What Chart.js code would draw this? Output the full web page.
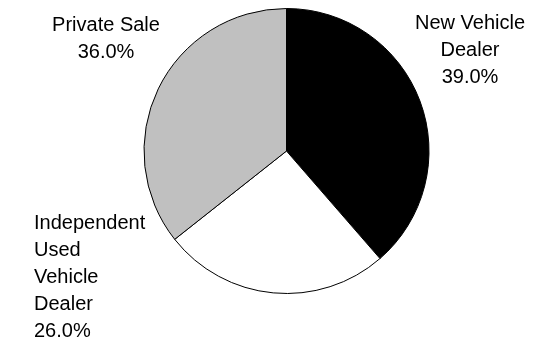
<!DOCTYPE html>
<html>
<head>
<meta charset="utf-8">
<script src="https://cdn.jsdelivr.net/npm/chart.js@4/dist/chart.umd.min.js"></script>
<style>
  html, body { margin: 0; padding: 0; background: #ffffff; }
  #wrap { width: 546px; height: 339px; position: relative; }
</style>
</head>
<body>
<div id="wrap"><canvas id="pieChart"></canvas></div>
<script>
// Chart data
const categories = [
  ["New Vehicle", "Dealer"],
  ["Independent", "Used", "Vehicle", "Dealer"],
  ["Private Sale"],
];
const shares = [39.0, 26.0, 36.0];
const sliceColors = ["#000000", "#ffffff", "#c0c0c0"];

// Label placement, relative to pie centre (px)
const labelSpots = [
  { dx: 183.5, dy: -122.5, align: "center" },
  { dx: -252.5, dy: 77.5, align: "left" },
  { dx: -180.5, dy: -120, align: "center" },
];

const pieLabels = {
  id: "pieLabels",
  afterDatasetsDraw(chart) {
    const ctx = chart.ctx;
    const meta = chart.getDatasetMeta(0);
    ctx.save();
    ctx.font = "20px 'Liberation Sans', Arial, sans-serif";
    ctx.fillStyle = "#000000";
    ctx.textBaseline = "alphabetic";
    meta.data.forEach((arc, i) => {
      const spot = labelSpots[i];
      const lines = categories[i].concat([shares[i].toFixed(1) + "%"]);
      ctx.textAlign = spot.align;
      lines.forEach((line, j) => {
        ctx.fillText(line, arc.x + spot.dx, arc.y + spot.dy + j * 27);
      });
    });
    ctx.restore();
  },
};

new Chart(document.getElementById("pieChart").getContext("2d"), {
  type: "pie",
  data: {
    labels: categories.map((c) => c.join(" ")),
    datasets: [
      {
        data: shares,
        backgroundColor: sliceColors,
        borderColor: "#000000",
        borderWidth: 1,
        hoverOffset: 0,
        offset: 0,
      },
    ],
  },
  options: {
    responsive: true,
    maintainAspectRatio: false,
    animation: false,
    layout: { padding: { top: 8, bottom: 45, left: 27, right: 0 } },
    plugins: {
      legend: { display: false },
      tooltip: { enabled: false },
    },
  },
  plugins: [pieLabels],
});
</script>
</body>
</html>
